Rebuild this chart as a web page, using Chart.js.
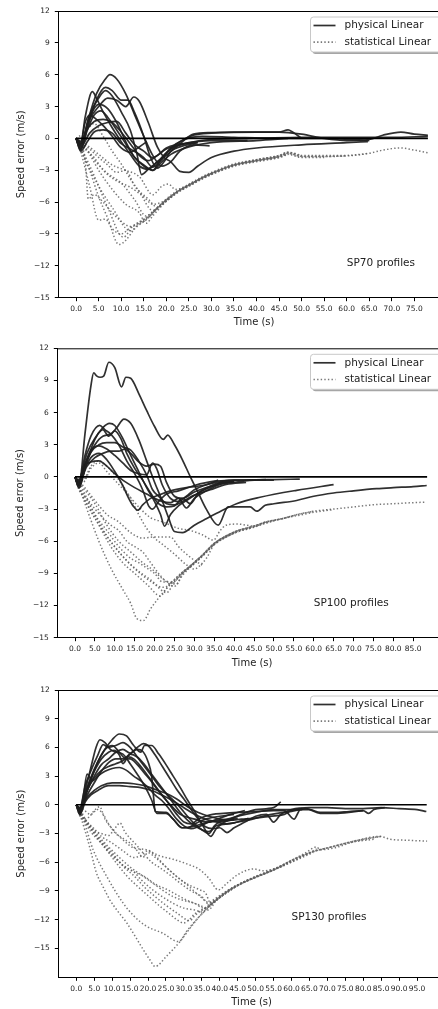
<!DOCTYPE html>
<html>
<head>
<meta charset="utf-8">
<script src="https://cdn.jsdelivr.net/npm/chart.js@4.4.1/dist/chart.umd.min.js"></script>
<style>
  html, body { margin: 0; padding: 0; background: #fff; overflow: hidden; }
  canvas { display: block; }
</style>
</head>
<body>
<canvas id="sp70" width="460" height="335"></canvas>
<canvas id="sp100" width="460" height="335"></canvas>
<canvas id="sp130" width="460" height="339"></canvas>
<script>
// --- tick labels ---
const yTicks = [-15, -12, -9, -6, -3, 0, 3, 6, 9, 12];
const xTicks70 = [0, 5, 10, 15, 20, 25, 30, 35, 40, 45, 50, 55, 60, 65, 70, 75];
const xTicks100 = [0, 5, 10, 15, 20, 25, 30, 35, 40, 45, 50, 55, 60, 65, 70, 75, 80, 85];
const xTicks130 = [0, 5, 10, 15, 20, 25, 30, 35, 40, 45, 50, 55, 60, 65, 70, 75, 80, 85, 90, 95];

// --- SP70 profiles: [time, speed error] ---
const sp70Physical = [
  [[0,0],[1,-0.9],[2.5,1.5],[4.5,4.2],[6.5,5.6],[7.5,6.0],[9,5.6],[11,4.2],[13,2.2],[15,0.2],[17,-1.6],[19,-2.6],[21,-2.2],[23,-1.2],[26,-0.6],[29.6,-0.7]],
  [[0,0],[1,-1.1],[2.5,1.0],[4.5,3.6],[6.5,4.8],[8,4.5],[10,3.6],[11.5,3.6],[13,2.4],[15,0.2],[16.5,-1.8],[18,-2.8],[19.5,-2.2],[21,-1.2],[23,-0.8],[26.9,-0.4]],
  [[0,0],[1,-0.6],[2,2.0],[3.6,4.4],[4.5,3.8],[6,2.5],[8,1.0],[10,-0.3],[12,-1.5],[14,-2.6],[16,-2.9],[18,-2.2],[20,-1.6],[23,-0.5],[26,0.4],[30,0.55],[35,0.6],[40,0.6],[45,0.6],[47,0.8],[48,0.6],[50,0.0]],
  [[0,0],[1,-0.5],[3,1.8],[5,3.0],[7,3.8],[9,3.6],[11,3.0],[12.8,3.9],[14,3.5],[16,1.5],[18,-0.8],[19.5,-1.8],[21,-2.2],[23,-3.1],[25,-3.2],[27,-2.6],[30,-1.8],[35,-1.2],[40,-0.9],[50,-0.6],[60,-0.4],[64.7,-0.3]],
  [[0,0],[1,-0.7],[3,2.2],[5,3.8],[6.5,4.5],[8,4.0],[10,2.5],[12,0.8],[13.5,-1.5],[14.5,-3.4],[16,-2.9],[18,-2.2],[20,-1.4],[23,-0.3],[26,0.3],[30,0.5],[40,0.6],[45,0.6],[50,0.4],[55,0.0],[60,-0.2],[65,-0.1],[68,0.3],[72,0.6],[75,0.4],[78,0.3]],
  [[0,0],[1,-1.0],[2.5,0.8],[4,2.2],[5.5,2.6],[7,2.0],[9,0.8],[11,-0.5],[13,-1.8],[15,-2.5],[17,-3.0],[19,-1.8],[21,-1.0],[25,-0.4],[30,-0.1],[40,0.0],[50,0.1],[60,0.1],[70,0.1],[78,0.2]],
  [[0,0],[1,-0.4],[2,1.5],[3,2.2],[4.5,1.8],[6,1.2],[8,0.2],[10,-0.9],[12,-1.3],[14,-0.8],[15.7,-0.3]],
  [[0,0],[1,-0.3],[2.5,0.9],[4,1.6],[6,1.8],[8,1.5],[10,0.6],[12,-0.5],[14,-1.6],[16,-2.1],[18,-1.6],[20,-0.9],[22,-0.6],[27,-0.4]],
  [[0,0],[1,-0.8],[3,0.5],[5,1.2],[7,1.5],[9,1.6],[11,0.5],[13,-0.6],[15,-1.2],[17,-1.8],[20,-1.0],[24,-0.5],[30,-0.2],[38,-0.2]],
  [[0,0],[1,-1.2],[2.5,-0.3],[4,0.6],[6,0.8],[8,0.5],[10,-0.5],[12,-1.0],[15,-1.8],[17,-2.7],[19,-2.0],[21,-0.9],[24,-0.1],[28,0.2],[35,0.1],[45,0.0],[55,0.0],[65,-0.2]],
  [[0,0],[1,-0.5],[3,2.0],[5,3.2],[7,2.8],[9,1.5],[11,-0.3],[13,-1.8],[15,-2.6],[17,-3.0],[19,-2.2],[21,-1.5],[25,-0.8],[30,-0.4],[40,-0.2],[47,0.0]]
];
const sp70Statistical = [
  [[0,0],[1,-1.0],[3,-3.0],[5,-5.5],[7,-7.5],[9.5,-10.0],[11,-9.6],[13,-8.5],[16,-7.5],[18,-6.5],[20,-5.8],[22.5,-5.0],[25,-4.4],[28,-3.7],[30,-3.3],[35,-2.5],[40,-2.1],[45,-1.7]],
  [[0,0],[1,-0.8],[4,-3.5],[7,-6.5],[10.5,-9.3],[12.5,-8.3],[15,-7.6],[17,-6.9],[20,-5.9],[22.5,-5.1],[25,-4.5],[28,-3.8],[30,-3.4],[35,-2.6],[40,-2.1],[45,-1.8],[47,-1.5]],
  [[0,0],[2,-2.0],[5,-4.5],[8,-6.5],[12,-8.7],[14,-8.0],[17,-7.0],[20,-5.7],[22.5,-4.9],[25,-4.3],[28,-3.6],[30,-3.2],[35,-2.4],[40,-2.0],[45,-1.6],[47,-1.3],[50,-1.6]],
  [[0,0],[1,-1.2],[3,-4.5],[5,-7.7],[6.5,-7.6],[8,-8.5],[10,-9.0],[12,-8.4],[14.5,-7.8],[16.5,-7.3],[18,-6.6],[20,-5.9],[22.5,-5.1],[25,-4.5],[28,-3.8],[30,-3.4],[35,-2.6],[40,-2.2],[45,-1.8],[47,-1.5],[50,-1.8],[55,-1.8]],
  [[0,0],[1,-0.5],[2,-2.0],[2.7,-5.7],[4,-5.3],[6,-6.0],[8,-7.0],[10,-7.8],[12,-8.3],[15,-7.8],[17,-7.0],[20,-5.8],[22.5,-5.0],[25,-4.4],[28,-3.7],[30,-3.3],[35,-2.5],[40,-2.1],[45,-1.7],[47,-1.4],[50,-1.7],[55,-1.7],[60,-1.65]],
  [[0,0],[1,-0.4],[3,-1.5],[5,-3.0],[8,-4.8],[11,-6.2],[14,-7.0],[15.5,-8.0],[17,-7.3],[20,-5.9],[22.5,-5.0],[25,-4.4],[28,-3.7],[30,-3.3],[35,-2.5],[40,-2.0],[45,-1.6],[47,-1.3],[50,-1.6],[55,-1.6],[60,-1.6],[65,-1.4]],
  [[0,0],[2,-0.8],[4,-2.0],[7,-3.3],[10,-4.2],[13,-5.8],[15.5,-7.3],[17.5,-6.7],[20,-5.8],[22.5,-5.0],[25,-4.4],[28,-3.7],[30,-3.3],[35,-2.5],[40,-2.1],[45,-1.7],[47,-1.4],[50,-1.7],[55,-1.7],[60,-1.65],[65,-1.4],[68,-1.1],[72,-0.9],[75,-1.1],[78,-1.35]],
  [[0,0],[2,-0.5],[5,-1.5],[8,-2.5],[11,-3.0],[14,-3.6],[17,-5.3],[19,-4.5],[20.5,-4.3],[22,-4.8],[24,-4.6],[27,-3.9],[30,-3.3],[35,-2.5],[40,-2.0],[45,-1.7],[47,-1.4]],
  [[0,0],[1.5,-0.8],[4,-1.8],[6,-3.0],[9,-4.0],[12,-4.6],[15,-5.5],[17,-6.2],[19,-6.0],[21,-5.5],[22.5,-5.0],[25,-4.4],[28,-3.7],[30,-3.3],[35,-2.5],[40,-2.1]],
  [[0,0],[1,-0.3],[3,-1.0],[5,-1.8],[7,-2.5],[9,-3.2],[11,-3.0],[13,-4.5],[16,-5.7],[18,-6.5],[20,-5.9],[22.5,-5.0],[25,-4.4],[28,-3.7],[30,-3.3],[35,-2.5]],
  [[0,0],[2,0.6],[4,1.4],[6,0.2],[8,-1.2],[10,-2.4],[12,-3.8],[14,-5.0],[17,-6.8],[20,-5.8],[22.5,-5.0],[25,-4.4],[28,-3.7],[30,-3.3]]
];

// --- SP100 profiles ---
const sp100Physical = [
  [[0,0],[1,-0.8],[2.5,4.0],[4,8.5],[4.7,9.7],[5.5,9.4],[6.3,9.3],[7.2,9.4],[8.5,10.7],[10,10.2],[11.7,8.4],[12.8,9.3],[14,9.2],[16,7.8],[18,6.2],[20,4.7],[22.2,3.5],[23.3,3.9],[25,3.0],[27,1.6],[29,0.0],[31,-1.5],[33,-3.0],[36,-4.5],[38.5,-2.8],[42,-2.8],[44,-2.8],[45.7,-3.2],[47.8,-2.65],[50,-2.5],[55.7,-2.2],[60,-1.8],[65,-1.5],[70,-1.3],[75.8,-1.1],[80,-1.0],[85,-0.9],[88.4,-0.8]],
  [[0,0],[1,-0.8],[3,1.5],[5,3.0],[7,3.8],[9,4.0],[10.5,4.6],[12.3,5.4],[14,5.0],[16,3.5],[18,1.5],[20,-0.5],[22,-2.3],[23.5,-3.8],[25,-5.1],[27,-5.2],[30,-4.5],[33,-3.9],[35.6,-3.4],[40.6,-2.5],[46.5,-1.9],[55.7,-1.25],[65,-0.72]],
  [[0,0],[1,-1.0],[3,1.5],[5,3.5],[7,4.6],[8.7,5.0],[10,4.8],[12,3.6],[14,2.0],[16,0.5],[18,-1.0],[20,-2.3],[21.5,-3.5],[22.5,-4.6],[24,-3.5],[26,-2.7],[28,-2.2],[31,-1.5],[35,-0.8],[40,-0.5],[45,-0.3],[50,-0.25],[56.5,-0.2]],
  [[0,0],[1,-0.5],[2.5,2.0],[4,3.8],[6.2,4.8],[7.5,4.4],[9,4.0],[11,3.0],[13,1.5],[15,0.3],[17,-1.2],[18.5,-2.7],[19.5,-3.0],[21,-2.3],[23,-1.6],[26,-1.3],[30,-0.8],[35,-0.4],[40,-0.3],[48,-0.25]],
  [[0,0],[1,-0.3],[3,2.2],[5,3.6],[7,4.4],[8.5,3.8],[10,4.3],[11.5,3.6],[13,2.2],[15,0.8],[17,-0.3],[19,-1.5],[21,-2.5],[23,-2.8],[25,-2.7],[27,-2.0],[29,-2.5],[31,-1.5],[35,-0.8],[38,-0.4],[40,-0.5]],
  [[0,0],[1,-0.6],[2.5,1.0],[4,2.3],[6,3.0],[8,3.2],[10,3.2],[12,2.8],[14,2.5],[16,1.5],[18,0.2],[19.5,-1.2],[21,-1.8],[23,-2.5],[25,-2.6],[27,-2.3],[30,-1.7],[34,-1.2],[38,-0.7],[43,-0.5]],
  [[0,0],[1,-0.5],[3,1.0],[5,1.8],[7,2.2],[9,2.4],[11,2.4],[12.5,2.6],[14,2.2],[16,1.4],[18,1.0],[20,1.2],[21.5,1.0],[23,-0.5],[25,-1.8],[27,-2.0],[30,-1.4],[33,-1.0],[37,-0.5],[40,-0.5]],
  [[0,0],[1,-1.0],[2.5,0.8],[4,1.8],[6,2.2],[8,1.6],[10,0.5],[12,-0.8],[13.5,-2.0],[14.6,-2.7],[15.8,-3.1],[17,-2.6],[19,-2.0],[21,-1.7],[24,-1.3],[28,-1.0],[32,-0.8],[37,-0.4],[40,-0.3],[45,-0.3],[50,-0.3]],
  [[0,0],[1,-0.4],[2,0.8],[4,1.4],[6,1.5],[8,1.0],[10,0.3],[12,-0.3],[15,-1.0],[18,-1.6],[20,-2.0],[22,-2.3],[24,-2.4],[26,-2.0],[28,-2.9],[30,-2.0],[33,-1.3],[37,-0.6],[40,-0.4]],
  [[0,0],[1,-0.8],[2.5,1.2],[4,2.5],[6,2.9],[8,2.6],[10,2.0],[12,1.3],[14,0.6],[16,0.3],[18,0.2],[19.5,1.3],[20.5,0.8],[22,-0.8],[24,-2.0],[26,-2.3],[28,-1.8],[30,-1.2],[34,-0.6],[36,-0.3]]
];
const sp100Statistical = [
  [[0,0],[1.2,-1.1],[3,-3.0],[6,-6.0],[9,-8.5],[12,-10.5],[14,-11.8],[15.5,-13.2],[17.2,-13.4],[19,-12.3],[21,-11.3],[23,-10.4],[25,-9.6],[27,-8.9],[29,-8.3],[32,-7.3],[35,-6.2],[38,-5.5],[41,-5.0],[44,-4.7],[48,-4.2],[52,-3.9],[56,-3.5],[60,-3.2],[65,-3.0],[70,-2.8],[75,-2.6],[80,-2.5],[85,-2.4],[88.3,-2.35]],
  [[0,0],[1,-1.0],[3,-2.5],[6,-4.5],[9,-6.5],[12,-8.0],[15,-9.0],[18,-10.0],[21.5,-11.1],[23,-10.4],[25,-9.7],[27,-9.0],[29,-8.4],[32,-7.4],[35,-6.3],[38,-5.6],[41,-5.1],[44,-4.8],[48,-4.3],[52,-3.9],[56,-3.6],[60,-3.3],[65,-3.05]],
  [[0,0],[2,-1.5],[5,-3.5],[8,-5.5],[11,-7.0],[14,-8.2],[17,-9.2],[20,-10.0],[23,-10.8],[25,-9.8],[27,-9.0],[29,-8.3],[32,-7.3],[35,-6.2],[38,-5.5],[41,-5.0],[44,-4.7],[48,-4.2],[52,-3.9],[55,-3.6]],
  [[0,0],[2,-1.0],[5,-2.5],[8,-4.5],[11,-6.0],[14,-7.0],[17,-8.0],[20,-8.8],[22,-9.5],[25.5,-10.0],[27,-9.0],[29,-8.4],[32,-7.4],[35,-6.3],[38,-5.6],[41,-5.1],[44,-4.8],[48,-4.3],[50,-4.1]],
  [[0,0],[1.5,-1.5],[4,-3.2],[7,-5.0],[10,-6.5],[13,-7.8],[16,-8.8],[19,-9.6],[21,-10.2],[22.5,-10.3],[24,-9.9],[26,-9.2],[29,-8.3],[32,-7.3],[35,-6.2],[38,-5.5],[41,-5.0],[44,-4.7],[48,-4.2]],
  [[0,0],[1,-0.5],[3,-2.0],[5,-3.5],[8,-5.0],[11,-6.5],[14,-7.6],[16,-8.0],[18,-8.5],[20,-9.0],[22,-9.8],[24.7,-9.8],[27,-8.9],[29,-8.3],[32,-7.3],[35,-6.2],[38,-5.5],[41,-5.0],[44,-4.7]],
  [[0,0],[2,-0.8],[5,-2.2],[8,-3.5],[11,-4.2],[14,-5.2],[17,-5.7],[20,-5.6],[24,-5.6],[26,-6.5],[29,-7.5],[32.2,-8.3]],
  [[0,0],[2,-0.5],[4,0.8],[6,1.3],[8,0.5],[10,-0.3],[13,-1.5],[16,-2.8],[19,-3.8],[22,-4.2],[26,-4.8],[29,-5.0],[32,-5.4],[34.8,-5.9],[36.5,-5.0],[38,-4.5],[41,-4.4],[43,-4.5],[45,-4.6],[48,-4.2],[52,-3.9],[56,-3.5],[60,-3.2]],
  [[0,0],[2,-0.3],[4,1.0],[6,1.5],[8,1.0],[10,0.2],[12,-0.8],[14,-2.0],[16,-3.5],[18,-4.8],[20,-5.7],[22,-6.3],[25,-7.2],[28,-8.2],[30,-8.6],[31,-8.4],[33,-7.6],[35,-6.3],[38,-5.6],[41,-5.1]],
  [[0,0],[1,-1.2],[3,-2.0],[5,-3.0],[7,-3.8],[9,-4.5],[11,-5.0],[13,-6.0],[15,-6.5],[17,-7.0],[19,-8.0],[21,-9.0],[23,-9.8],[25,-10.2],[27,-9.2],[29,-8.4],[32,-7.4],[35,-6.3],[38,-5.6],[40,-5.2]]
];

// --- SP130 profiles ---
const sp130Physical = [
  [[0,0],[1,-1.0],[2.5,0.8],[4,2.5],[6,4.5],[8,5.8],[10,6.8],[12,7.4],[14,7.2],[16,6.2],[18,5.5],[19,6.2],[21,6.2],[23,5.3],[25,4.2],[27,3.0],[29,1.8],[31,0.5],[33,-0.7],[35,-2.0],[37.5,-3.3],[39,-2.5],[40.5,-2.0],[43,-1.5],[46,-1.0],[50,-0.5],[55,-0.3],[57,0.3]],
  [[0,0],[1,-0.7],[2.5,1.5],[4,3.8],[5.5,6.0],[6.6,6.8],[8,6.5],[9.5,5.8],[11,5.5],[13,5.3],[15,4.3],[17,3.2],[19,2.0],[21,0.5],[22.5,-0.9],[25,-0.9],[27,-1.5],[29.5,-2.4],[32,-2.3],[35,-2.0],[38,-1.7],[42,-1.5],[45,-1.2],[50,-0.8],[55,-0.5],[60,-0.5],[63,-0.4]],
  [[0,0],[1,-0.4],[3,1.5],[5,3.0],[7,4.2],[9,4.8],[11,5.5],[13,5.8],[15,5.4],[17,6.0],[18.7,6.4],[20,6.2],[22,5.2],[24,4.0],[26,2.8],[28,1.6],[30,0.6],[32,-0.5],[34,-1.5],[36,-2.3],[38,-2.5],[40,-2.4],[42,-2.9],[44,-2.4],[47,-1.8],[50,-1.2],[53,-1.0],[55,-1.8],[57,-1.0],[60,-0.5],[65,-0.3],[70,-0.3],[75,-0.4],[80,-0.4],[85,-0.3],[90,-0.4],[95,-0.5],[97.6,-0.7]],
  [[0,0],[1,-0.8],[2.5,1.0],[4,2.8],[6,4.5],[8,5.8],[10,6.2],[12,5.5],[13.5,4.9],[15,5.3],[17,5.0],[19,4.2],[21,3.2],[23,2.2],[25,1.2],[27,0.2],[29,-0.8],[31,-1.6],[33,-2.2],[35,-2.6],[37,-2.8],[39,-2.2],[42,-2.0],[45,-1.8],[48,-1.4]],
  [[0,0],[1,-0.6],[3,1.8],[5,3.5],[7,4.8],[9,5.5],[10.5,5.7],[12,5.2],[13,4.3],[14.5,5.0],[16,4.8],[18,4.0],[20,3.0],[22,2.0],[24,1.0],[26,0.0],[28,-1.0],[30,-1.8],[32,-2.0],[34,-1.5],[36,-1.2],[38,-1.0],[41,-0.9],[45,-0.8],[50,-0.7],[55,-0.6],[58,-0.6],[60.7,-1.5],[62.5,-0.5],[65,-0.5],[68,-0.8],[72,-0.8],[76,-0.7],[80,-0.6],[81.5,-0.9],[83,-0.5],[86,-0.3]],
  [[0,0],[1,-0.5],[3,1.0],[5,2.3],[7,3.5],[9,4.4],[11,4.8],[13,4.8],[15,4.8],[17,4.2],[19,3.3],[21,2.4],[23,1.4],[25,0.5],[27,-0.3],[29,-1.0],[31,-1.3],[33,-1.5],[35,-1.7],[37,-1.8],[40,-1.7],[45,-1.4]],
  [[0,0],[1,-0.8],[2,1.0],[3,3.2],[4.5,2.5],[6,3.0],[8,3.5],[10,3.8],[12,3.9],[14,3.6],[16,3.0],[18,2.5],[20,1.8],[22,1.0],[24,0.4],[26,-0.5],[28,-1.5],[30,-2.2],[32,-2.5],[34,-2.3],[37,-1.8],[40,-1.4],[43,-1.0],[47,-0.6]],
  [[0,0],[1,-0.4],[3,0.8],[5,1.5],[7,2.0],[10,2.3],[13,2.3],[16,2.2],[19,2.0],[22,1.6],[25,1.2],[28,0.6],[31,-0.2],[34,-0.8],[37,-1.2],[40,-1.5],[43,-1.6],[46,-1.5],[50,-1.4],[54,-1.2],[58,-1.0],[60,-0.6],[63,-0.5]],
  [[0,0],[1,-1.0],[2.5,0.3],[4,1.0],[6,1.5],[9,2.0],[12,2.0],[15,1.9],[18,1.8],[21,1.5],[24,1.0],[27,0.4],[30,-0.3],[33,-1.0],[36,-1.5],[39,-1.8],[42,-2.0],[45,-1.8],[48,-1.6],[52,-1.2],[56,-0.9],[60,-0.7],[64,-0.4],[68,-0.9],[72,-0.9],[76,-0.8],[80,-0.6]],
  [[0,0],[1,-0.5],[3,1.5],[5,2.8],[7,3.6],[9,4.0],[11,4.3],[13,4.6],[15,5.3],[17,5.8],[18.5,5.6],[20,4.5],[21,3.0],[21.5,1.0],[22,-0.7],[25,-0.8],[27,-1.5],[29.5,-2.4],[31,-2.4],[33,-2.0],[36,-1.5],[40,-1.2],[44,-1.0]],
  [[0,0],[1,-0.3],[2.5,2.0],[4,3.5],[6,5.2],[7.5,6.3],[9,6.0],[11,6.2],[13,6.5],[15,6.0],[17,5.0],[19,4.0],[21,3.0],[23,2.0],[25,1.2],[27,0.5],[29,-0.3],[31,-1.2],[33,-2.0],[35,-2.6],[37,-3.0],[38.5,-2.2],[40,-1.8],[42,-1.7],[44,-1.5]]
];
const sp130Statistical = [
  [[0,0],[1,-1.0],[2.5,-2.8],[4,-4.8],[5.6,-7.1],[7.5,-8.6],[9.3,-9.9],[11.5,-11.1],[14,-12.3],[16.5,-13.8],[18.6,-15.1],[20.5,-16.2],[22,-16.9],[25.2,-15.8],[28.9,-14.3],[31.5,-13.0],[34.5,-11.6],[37,-10.7],[39.2,-9.9],[43.8,-8.7],[49.4,-7.65],[55,-6.8],[60.6,-5.7],[66.1,-4.9],[71.7,-4.35],[77.3,-3.8],[84.7,-3.3],[87.5,-3.6],[92,-3.7],[97.8,-3.8]],
  [[0,0],[1,-0.8],[2,-1.6],[4.7,-4.7],[8.5,-7.5],[13.1,-10.3],[16,-11.6],[19.6,-12.7],[24,-13.4],[28.5,-14.3],[31,-13.1],[34.5,-11.6],[39.2,-9.9],[43.8,-8.7],[49.4,-7.65],[55,-6.8],[60.6,-5.7],[66,-4.9],[71.7,-4.35],[77.3,-3.8],[84.7,-3.3]],
  [[0,0],[1,-0.6],[3,-2.0],[5,-3.0],[8,-4.5],[11,-6.0],[14,-7.4],[17,-8.5],[20,-9.5],[23,-10.5],[26,-11.4],[28,-12.0],[29.9,-12.35],[31.5,-12.0],[33,-11.4],[36,-10.8],[39.2,-9.9],[43.8,-8.7],[49.4,-7.65],[55,-6.8],[60,-5.9],[66,-4.9],[70,-4.5],[77,-3.9],[83,-3.6]],
  [[0,0],[1.5,-1.2],[4,-2.5],[7,-3.8],[10,-5.0],[13,-6.4],[16,-7.4],[19,-8.6],[22,-9.6],[25,-10.5],[28,-11.3],[31.7,-12.1],[33,-11.6],[35,-11.0],[37,-10.6],[40,-9.7],[44,-8.6],[50,-7.5],[55,-6.8],[60,-6.0],[66,-5.0]],
  [[0,0],[2,-1.5],[4,-2.8],[7,-4.0],[10,-5.2],[13,-6.3],[16,-7.0],[19,-7.5],[22,-8.3],[25,-8.8],[28,-9.4],[31,-10.0],[33,-10.3],[35,-10.6],[36.8,-11.0],[39,-10.0],[43,-8.8],[48,-7.9],[52,-7.3],[57,-6.5],[62,-5.6],[67,-4.6]],
  [[0,0],[1,-1.0],[3,-1.8],[5,-2.5],[7,-3.3],[10,-4.0],[13,-4.8],[16,-5.5],[18,-5.3],[20,-4.8],[22,-5.3],[25,-6.5],[28,-7.5],[31,-8.3],[34.5,-8.9],[36,-9.2],[37.5,-10.3],[39,-10.0],[43,-8.8],[48,-7.8]],
  [[0,0],[1,-0.8],[3,-2.0],[5,-2.7],[7,-3.0],[9,-3.2],[10.5,-2.6],[12.2,-1.9],[13.5,-2.8],[15,-3.5],[17,-4.3],[19,-5.2],[21,-6.0],[23,-6.5],[26,-7.3],[29,-8.2],[32,-9.0],[35,-9.6],[37,-10.4],[39.2,-9.9],[44,-8.7]],
  [[0,0],[1,-1.2],[2,-1.5],[3.5,-1.3],[5,-0.6],[6.5,-0.2],[8,-1.5],[10,-2.5],[12,-3.3],[14,-4.0],[16,-4.5],[19.6,-4.7],[23,-5.3],[27,-5.7],[31,-6.2],[34.5,-6.8],[37,-7.7],[39.6,-8.9],[42,-8.2],[45,-7.3],[49.4,-6.7],[52,-6.9],[55,-6.7],[60,-5.8],[64,-5.0],[67,-4.4],[68,-4.7],[72,-4.5],[77,-3.9],[82,-3.5],[85,-3.3]],
  [[0,0],[2,-0.5],[4,-1.0],[6,-0.5],[7.5,-1.0],[9,-2.0],[11,-3.0],[13,-3.5],[15,-4.0],[17,-4.8],[18.5,-5.5],[20,-5.0],[22,-5.5],[25,-6.5],[28,-7.5],[31,-8.4],[34,-9.4],[37,-10.2],[40,-9.6],[44,-8.6],[50,-7.5],[55,-6.7],[60,-5.9]],
  [[0,0],[1,-0.4],[2.5,-1.5],[4,-2.3],[6,-3.5],[8,-4.5],[10,-5.3],[12,-6.0],[14,-6.6],[16,-7.0],[18,-7.8],[21,-8.8],[24,-9.6],[27,-10.3],[30,-10.8],[33,-11.0],[35,-11.2],[37,-10.6],[41,-9.3],[45,-8.4],[50,-7.6],[55,-6.8],[58,-6.3]],
  [[0,0],[1.5,-1.0],[3,-1.8],[6,-3.2],[9,-4.4],[12,-5.5],[15,-6.5],[18,-7.3],[21,-8.1],[24,-8.9],[27,-9.6],[30,-10.0],[33,-10.3],[35.5,-10.8],[38,-10.0],[42,-9.0],[46,-8.2],[50,-7.5]]
];

const FONT = '"DejaVu Sans", sans-serif';
const SOLID = 'rgba(30,30,30,0.92)';
const DOTTED = 'rgba(95,95,95,0.85)';
const DOT_DASH = [1.4, 2.2];
const toXY = s => s.map(([x, y]) => ({ x, y }));
const minusLabel = v => (v < 0 ? '\u2212' + Math.abs(v) : String(v));

// spines, legend box and profile label drawn over the plot
const panelDecor = {
  id: 'panelDecor',
  afterDraw(chart, args, o) {
    const { ctx, chartArea: a, scales: { x, y } } = chart;
    ctx.save();
    ctx.strokeStyle = '#000';
    ctx.lineWidth = 1;
    ctx.beginPath();
    ctx.moveTo(a.left, a.top + 0.5);
    ctx.lineTo(a.right, a.top + 0.5);
    ctx.stroke();

    ctx.fillStyle = '#222';
    ctx.font = '10.5px ' + FONT;
    ctx.textBaseline = 'alphabetic';
    ctx.textAlign = 'left';
    ctx.fillText(o.label, x.getPixelForValue(60), y.getPixelForValue(-12));

    // legend
    const bx = 310.5, by = a.top + 6, bw = 134, bh = 35, r = 3;
    const box = (ox, oy) => {
      ctx.beginPath();
      ctx.roundRect(bx + ox, by + oy, bw, bh, r);
    };
    ctx.fillStyle = 'rgba(0,0,0,0.35)';
    box(2, 2); ctx.fill();
    ctx.fillStyle = '#fff';
    ctx.strokeStyle = '#c8c8c8';
    box(0, 0); ctx.fill(); ctx.stroke();

    const rows = [
      { text: 'physical Linear', color: SOLID, dash: [] },
      { text: 'statistical Linear', color: DOTTED, dash: DOT_DASH }
    ];
    rows.forEach((row, i) => {
      const ry = by + 8.5 + i * 16.7;
      ctx.strokeStyle = row.color;
      ctx.lineWidth = 1.7;
      ctx.setLineDash(row.dash);
      ctx.beginPath();
      ctx.moveTo(bx + 3, ry);
      ctx.lineTo(bx + 25, ry);
      ctx.stroke();
      ctx.setLineDash([]);
      ctx.fillStyle = '#222';
      ctx.textBaseline = 'middle';
      ctx.fillText(row.text, bx + 34, ry);
    });
    ctx.restore();
  }
};

function drawPanel(id, p) {
  const datasets = [
    { data: toXY([[0, 0], [p.zeroEnd, 0]]), borderColor: '#000', borderWidth: 1.6 }
  ];
  p.physical.forEach(s => datasets.push({
    data: toXY(s), borderColor: SOLID, borderWidth: 1.7
  }));
  p.statistical.forEach(s => datasets.push({
    data: toXY(s), borderColor: DOTTED, borderWidth: 1.5, borderDash: DOT_DASH
  }));

  const canvas = document.getElementById(id);
  const H = canvas.height, W = canvas.width;
  const axisStyle = {
    grid: { drawOnChartArea: false, drawTicks: true, tickLength: 3.5, tickColor: '#000', tickWidth: 1 },
    border: { display: true, color: '#000', width: 1 }
  };

  new Chart(canvas, {
    type: 'line',
    data: { datasets },
    options: {
      responsive: false,
      animation: false,
      events: [],
      layout: { padding: { top: p.top, right: W - p.right, left: 0, bottom: 0 } },
      elements: {
        point: { radius: 0 },
        line: { fill: false, cubicInterpolationMode: 'monotone', borderCapStyle: 'butt' }
      },
      plugins: {
        legend: { display: false },
        tooltip: { enabled: false },
        panelDecor: { label: p.label }
      },
      scales: {
        x: {
          type: 'linear',
          min: p.xMin,
          max: p.xMax,
          afterBuildTicks: s => { s.ticks = p.xTicks.map(v => ({ value: v })); },
          afterFit: s => { s.height = H - p.bottom; },
          ticks: {
            autoSkip: false, maxRotation: 0, minRotation: 0, padding: 3.5,
            color: '#222', font: { family: FONT, size: 7.5 },
            callback: v => v.toFixed(1)
          },
          title: {
            display: true, text: 'Time (s)', color: '#222',
            font: { family: FONT, size: 10 },
            padding: { top: 0, bottom: p.xTitlePad }
          },
          ...axisStyle
        },
        y: {
          type: 'linear',
          min: p.yMin,
          max: 12,
          afterBuildTicks: s => { s.ticks = yTicks.map(v => ({ value: v })); },
          afterFit: s => { s.width = p.left; },
          ticks: {
            padding: 5, color: '#222', font: { family: FONT, size: 7.5 },
            callback: minusLabel
          },
          title: {
            display: true, text: 'Speed error (m/s)', color: '#222',
            font: { family: FONT, size: 10 },
            padding: { top: p.yTitlePad, bottom: 0 }
          },
          ...axisStyle
        }
      }
    },
    plugins: [panelDecor]
  });
}

drawPanel('sp70', {
  label: 'SP70 profiles', physical: sp70Physical, statistical: sp70Statistical,
  xTicks: xTicks70, zeroEnd: 78, xMin: -3.95, xMax: 82.9, yMin: -15,
  top: 11, bottom: 297.7, left: 58.3, right: 450, xTitlePad: 6.3, yTitlePad: 15
});
drawPanel('sp100', {
  label: 'SP100 profiles', physical: sp100Physical, statistical: sp100Statistical,
  xTicks: xTicks100, zeroEnd: 88.5, xMin: -4.45, xMax: 93.5, yMin: -15,
  top: 13.3, bottom: 302.7, left: 57.3, right: 447, xTitlePad: 1, yTitlePad: 14
});
drawPanel('sp130', {
  label: 'SP130 profiles', physical: sp130Physical, statistical: sp130Statistical,
  xTicks: xTicks130, zeroEnd: 97.7, xMin: -5.02, xMax: 102.8, yMin: -18.03,
  top: 20, bottom: 307.3, left: 58.3, right: 445, xTitlePad: 1, yTitlePad: 15
});
</script>
</body>
</html>
